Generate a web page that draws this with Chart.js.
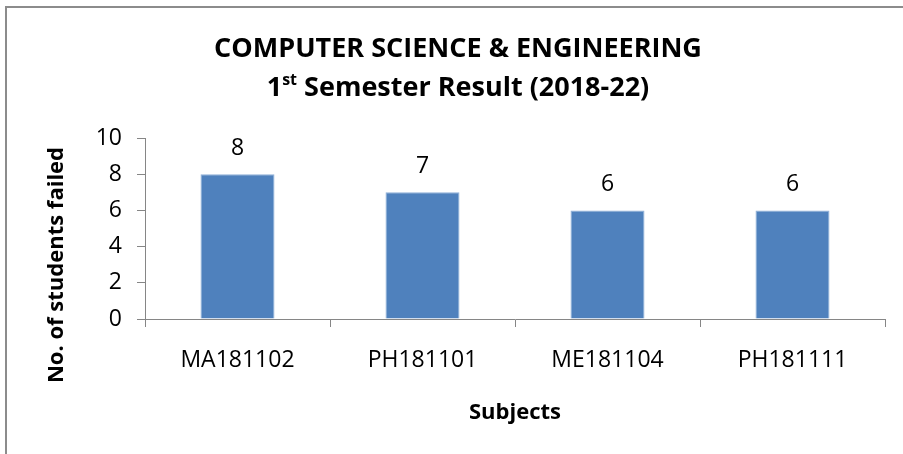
<!DOCTYPE html>
<html>
<head>
<meta charset="utf-8">
<script src="https://cdn.jsdelivr.net/npm/chart.js@4.4.0/dist/chart.umd.min.js"></script>
<style>
  html, body { margin: 0; padding: 0; background: #fff; overflow: hidden; }
  #wrap { position: relative; width: 903px; height: 454px; overflow: hidden; }
  #frame {
    position: absolute; left: 5px; top: 6px; width: 1000px; height: 1000px;
    border-left: 2px solid #8c8c8c; border-top: 2px solid #8c8c8c;
    pointer-events: none;
  }
</style>
</head>
<body>
<div id="wrap">
  <canvas id="myChart" width="903" height="454"></canvas>
  <div id="frame"></div>
</div>
<script>
// data
const subjects = ['MA181102', 'PH181101', 'ME181104', 'PH181111'];
const failed = [8, 7, 6, 6];
const yMin = 0;
const yMax = 10;
const yStep = 2;

// texts
const titleLine1 = 'COMPUTER SCIENCE & ENGINEERING';
const titleLine2 = ['1', 'st', ' Semester Result (2018-22)'];
const yTitle = 'No. of students failed';
const xTitle = 'Subjects';

const FONT = "'Open Sans', 'Liberation Sans', sans-serif";
const AXIS_GREY = '#868686';

// title with the superscript "st", and the y axis title
const titlePlugin = {
    id: 'titleText',
    afterDraw(chart){
        const ctx = chart.ctx;
        ctx.save();
        ctx.fillStyle = '#000';
        ctx.textBaseline = 'alphabetic';
        ctx.textAlign = 'center';
        const big = `bold 27px ${FONT}`;
        const small = `bold 16px ${FONT}`;
        ctx.font = big;
        const cx = 458;
        ctx.fillText(titleLine1, cx, 57);

        // second line, drawn in parts
        const w1 = ctx.measureText(titleLine2[0]).width;
        const w3 = ctx.measureText(titleLine2[2]).width;
        ctx.font = small;
        const w2 = ctx.measureText(titleLine2[1]).width;
        let x = cx - (w1 + w2 + w3) / 2;
        ctx.textAlign = 'left';
        ctx.font = big;
        ctx.fillText(titleLine2[0], x, 96);
        x += w1;
        ctx.font = small;
        ctx.fillText(titleLine2[1], x, 85);
        x += w2;
        ctx.font = big;
        ctx.fillText(titleLine2[2], x, 96);

        // y axis title
        ctx.translate(57, 265);
        ctx.rotate(-Math.PI / 2);
        ctx.textAlign = 'center';
        ctx.textBaseline = 'middle';
        ctx.font = `bold 22px ${FONT}`;
        ctx.fillText(yTitle, 0, 0);
        ctx.restore();
    }
};

// value labels above the bars
const valueLabels = {
    id: 'valueLabels',
    afterDatasetsDraw(chart){
        const ctx = chart.ctx;
        const meta = chart.getDatasetMeta(0);
        ctx.save();
        ctx.fillStyle = '#000';
        ctx.font = `23px ${FONT}`;
        ctx.textAlign = 'center';
        ctx.textBaseline = 'middle';
        meta.data.forEach((bar, i) => {
            ctx.fillText(String(failed[i]), bar.x, bar.y - 26);
        });
        ctx.restore();
    }
};

const ctx = document.getElementById('myChart');

new Chart(ctx, {
    type: 'bar',
    data: {
        labels: subjects,
        datasets: [{
            label: 'No. of students failed',
            data: failed,
            backgroundColor: '#4f81bd',
            borderColor: '#8fb0d8',
            borderWidth: 1,
            barPercentage: 0.4,
            categoryPercentage: 1
        }]
    },
    options: {
        responsive: false,
        animation: false,
        layout: {
            padding: { left: 85, right: 18, top: 138, bottom: 0 }
        },
        plugins: {
            legend: { display: false },
            title: { display: false },
            tooltip: { enabled: false }
        },
        scales: {
            x: {
                grid: {
                    offset: true,
                    drawOnChartArea: false,
                    tickLength: 8,
                    color: AXIS_GREY
                },
                border: { color: AXIS_GREY, width: 1 },
                ticks: {
                    color: '#000',
                    font: { family: FONT, size: 23 },
                    padding: 20,
                    maxRotation: 0
                },
                title: {
                    display: true,
                    text: xTitle,
                    color: '#000',
                    font: { family: FONT, size: 22, weight: 'bold' },
                    padding: { top: 0, bottom: 28 }
                },
                afterFit(scale){
                    scale.height = 135;
                }
            },
            y: {
                min: yMin,
                max: yMax,
                grid: {
                    drawOnChartArea: false,
                    tickLength: 8,
                    color: AXIS_GREY
                },
                border: { color: AXIS_GREY, width: 1 },
                ticks: {
                    stepSize: yStep,
                    color: '#000',
                    font: { family: FONT, size: 23 },
                    padding: 15
                },
                afterFit(scale){
                    scale.width = 60;
                }
            }
        }
    },
    plugins: [titlePlugin, valueLabels]
});
</script>
</body>
</html>
